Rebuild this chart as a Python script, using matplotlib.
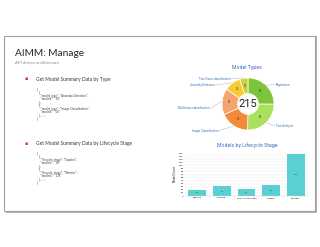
import numpy as np
import matplotlib.pyplot as plt
from matplotlib.patches import Rectangle

# data
type_names = ['Regression', 'Text Analysis', 'Image Classification',
              'Multiclass classification', 'Anomaly Detection', 'Two Class classification']
type_counts = [54, 54, 39, 35, 22, 11]
type_colors = ['#7cc53a', '#a9e05c', '#f28a3a', '#f5a46c', '#f6c935', '#c9d33c']

stages = ['Explore', 'Prepare', 'Train & Evaluate', 'Predict', 'Monitor']
stage_counts = [21, 31, 24, 35, 137]
y_ticks = list(range(0, 141, 10))

json_type = ['[', '  {', '    "model_type": "Anomaly Detection",', '    "models": "30"', '  },',
             '  {', '    "model_type": "Image Classification",', '    "models": "50"', '  }, ...', ']']
json_stage = ['[', '  {', '    "lifecycle_stage": "Explore",', '    "models": "18"', '  },',
              '  {', '    "lifecycle_stage": "Monitor",', '    "models": "135"', '  }, ...', ']']

W, H = 320, 247
fig = plt.figure(figsize=(3.2, 2.47), dpi=100)
fig.patch.set_facecolor('white')

def fx(x):
    return x / W

def fy(y):
    return 1 - y / H

# slide frame with a bit of shadow
fig.patches.append(Rectangle((fx(6), fy(213)), fx(311), 177 / H, transform=fig.transFigure,
                             facecolor='#b5b5b5', edgecolor='none', zorder=-3))
fig.patches.append(Rectangle((fx(4), fy(211)), fx(311), 175 / H, transform=fig.transFigure,
                             facecolor='white', edgecolor='#a0a0a0', lw=0.8, zorder=-2))

slide_font = ['Lato', 'DejaVu Sans']
fig.text(fx(15), fy(53), 'AIMM: Manage', fontsize=7.3, family=slide_font, color='#222222', va='center')
fig.text(fx(15), fy(63.5), 'API driven architecture', fontsize=3.2, family=slide_font, color='#8a8a8a', va='center')

def bullet_block(y0, heading, lines):
    fig.text(fx(25), fy(y0), '\u25aa', fontsize=3.5, color='#e03030', va='center', ha='left')
    fig.text(fx(36), fy(y0), heading, fontsize=3.5, family=slide_font, color='#333333', va='center')
    for i, ln in enumerate(lines):
        fig.text(fx(37), fy(y0 + 10 + i * 3.3), ln, fontsize=1.9, family='DejaVu Sans',
                 color='#333333', va='center')

bullet_block(79, 'Get Model Summary Data by Type', json_type)
bullet_block(143, 'Get Model Summary Data by Lifecycle Stage', json_stage)

label_color = '#3d6fc0'
chart_font = ['Roboto', 'DejaVu Sans']

# donut
R = 26.0
ax1 = fig.add_axes([fx(188), fy(140), 120 / W, 72 / H])
ax1.set_zorder(2)
ax1.set_xlim(-60 / R, 60 / R)
ax1.set_ylim(-36 / R, 36 / R)
ax1.set_aspect('equal')
ax1.axis('off')
wedges, _ = ax1.pie(type_counts, colors=type_colors, startangle=90, counterclock=False,
                    radius=1.0, wedgeprops=dict(width=0.6, edgecolor='white', linewidth=0.5))
ax1.set_xlim(-60 / R, 60 / R)
ax1.set_ylim(-36 / R, 36 / R)
total = sum(type_counts)
ax1.text(0, 0, str(total), ha='center', va='center', fontsize=8, family=chart_font, color='#222222')
label_pos = [(1.05, 0.75), (1.05, -0.85), (-1.1, -1.02), (-1.45, -0.17), (-1.25, 0.73), (-0.65, 0.98)]
for w, v, name, (lx, ly) in zip(wedges, type_counts, type_names, label_pos):
    ang = np.deg2rad((w.theta1 + w.theta2) / 2)
    ax1.text(0.7 * np.cos(ang), 0.7 * np.sin(ang), str(v), ha='center', va='center',
             fontsize=1.8, color='#333333')
    ex, ey = 1.02 * np.cos(ang), 1.02 * np.sin(ang)
    ha = 'left' if lx > 0 else 'right'
    ax1.plot([ex, lx], [ey, ly], color='#aaaaaa', lw=0.3)
    ax1.text(lx + (0.03 if lx > 0 else -0.03), ly, name, ha=ha, va='center', fontsize=2.1,
             family=chart_font, color=label_color)
fig.text(fx(247), fy(68), 'Model Types', ha='center', va='center', fontsize=3.8,
         family=chart_font, color=label_color)

# bar chart
fig.text(fx(247), fy(145), 'Models by Lifecycle Stage', ha='center', va='center', fontsize=3.8,
         family=chart_font, color=label_color)
ax2 = fig.add_axes([fx(185), fy(196), 123 / W, 43 / H])
ax2.set_zorder(2)
ax2.set_facecolor('none')
x = np.arange(len(stages))
ax2.bar(x, stage_counts, width=0.72, color='#5bd0d2', zorder=2)
for xi, v in zip(x, stage_counts):
    ax2.text(xi, v / 2, str(v), ha='center', va='center', fontsize=1.6, color='#333333', zorder=3)
ax2.set_xlim(-0.5, len(stages) - 0.5)
ax2.set_ylim(0, 140)
ax2.set_yticks(y_ticks)
ax2.set_xticks(x)
ax2.set_xticklabels(stages)
ax2.tick_params(axis='both', labelsize=1.7, length=0, pad=1)
ax2.grid(axis='y', color='#e6e6e6', lw=0.3, zorder=0)
for s in ['top', 'right', 'left']:
    ax2.spines[s].set_visible(False)
ax2.spines['bottom'].set_color('#cccccc')
ax2.spines['bottom'].set_linewidth(0.3)
ax2.set_ylabel('Model Count', fontsize=1.8, labelpad=1.5)

fig.savefig('out.png', dpi=100)
